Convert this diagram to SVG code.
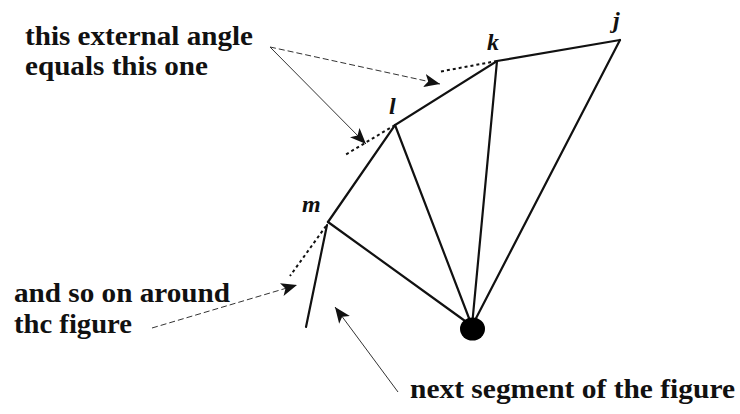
<svg xmlns="http://www.w3.org/2000/svg" width="740" height="414" viewBox="0 0 740 414">
<defs>
<style>
.txt{font-family:"Liberation Serif","Times New Roman",serif;font-weight:bold;font-size:27px;fill:#111}
.lbl{font-family:"Liberation Serif","Times New Roman",serif;font-style:italic;font-weight:bold;font-size:24px;fill:#111}
.edge{stroke:#111;stroke-width:2.2;fill:none;stroke-linecap:round}
.ext{stroke:#111;stroke-width:2;fill:none;stroke-dasharray:3,3}
.lead{stroke:#333;stroke-width:1;fill:none}
.leadd{stroke:#333;stroke-width:1;fill:none;stroke-dasharray:6,3}
</style>
<marker id="ah" viewBox="0 0 12 10" refX="12" refY="5" markerWidth="16" markerHeight="14" markerUnits="userSpaceOnUse" orient="auto">
<path d="M0,0 L12,5 L0,10 L3,5 z" fill="#111"/>
</marker>
</defs>
<rect width="740" height="414" fill="#fff"/>
<g id="connectors">
<path class="edge" d="M328,222 L395,125 L497,61 L620,40"/>
<line class="edge" x1="472" y1="326" x2="328" y2="222"/>
<line class="edge" x1="472" y1="326" x2="395" y2="125"/>
<line class="edge" x1="472" y1="326" x2="497" y2="61"/>
<line class="edge" x1="472" y1="326" x2="620" y2="40"/>
<line class="edge" x1="327" y1="225" x2="306" y2="327"/>
<line class="ext" x1="497" y1="61" x2="438" y2="72"/>
<line class="ext" x1="395" y1="125" x2="345" y2="155"/>
<line class="ext" x1="326" y1="226" x2="290" y2="276"/>
<line class="leadd" x1="270" y1="47" x2="440" y2="84" marker-end="url(#ah)"/>
<line class="lead" x1="270" y1="47" x2="366" y2="144" marker-end="url(#ah)"/>
<line class="leadd" x1="152" y1="328" x2="297" y2="285" marker-end="url(#ah)"/>
<line class="lead" x1="398" y1="392" x2="335" y2="307" marker-end="url(#ah)"/>
</g>
<g id="node-center"><ellipse cx="472.5" cy="329" rx="12.5" ry="11.5" fill="#000"/></g>
<g id="node-j"><text class="lbl" x="613" y="28">j</text></g>
<g id="node-k"><text class="lbl" x="487" y="50">k</text></g>
<g id="node-l"><text class="lbl" x="389" y="114">l</text></g>
<g id="node-m"><text class="lbl" x="302" y="212">m</text></g>
<g id="label-angle">
<text class="txt" x="25" y="45" textLength="228" lengthAdjust="spacingAndGlyphs">this external angle</text>
<text class="txt" x="25" y="75" textLength="183" lengthAdjust="spacingAndGlyphs">equals this one</text>
</g>
<g id="label-around">
<text class="txt" x="14" y="302" textLength="216" lengthAdjust="spacingAndGlyphs">and so on around</text>
<text class="txt" x="14" y="333" textLength="118" lengthAdjust="spacingAndGlyphs">thc figure</text>
</g>
<g id="label-next">
<text class="txt" x="410" y="398" textLength="325" lengthAdjust="spacingAndGlyphs">next segment of the figure</text>
</g>
</svg>
